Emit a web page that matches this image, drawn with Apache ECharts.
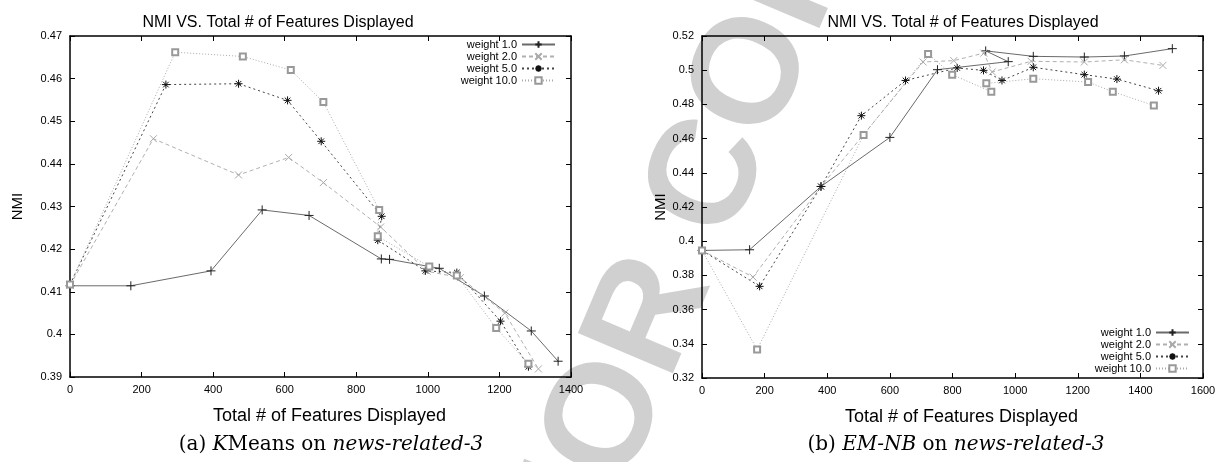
<!DOCTYPE html>
<html>
<head>
<meta charset="utf-8">
<script src="https://cdn.jsdelivr.net/npm/echarts@6/dist/echarts.min.js"></script>
<style>
  html, body { margin: 0; padding: 0; background: #fff; }
  #main { width: 1220px; height: 462px; }
</style>
</head>
<body>
<div id="main"></div>
<script>
'use strict';

// (a) KMeans - [features, NMI]
var kmW1 = [[0, 0.4114], [170, 0.4114], [394, 0.4149], [537, 0.4292], [668, 0.4279], [870, 0.4177], [893, 0.4176], [1032, 0.4155], [1158, 0.4090], [1289, 0.4008], [1364, 0.3937]];
var kmW2 = [[0, 0.4115], [233, 0.4459], [471, 0.4374], [611, 0.4415], [708, 0.4356], [868, 0.4252], [998, 0.4148], [1091, 0.4133], [1215, 0.4050], [1309, 0.3919]];
var kmW5 = [[0, 0.4117], [268, 0.4586], [471, 0.4588], [608, 0.4549], [702, 0.4453], [871, 0.4277], [860, 0.4221], [993, 0.4149], [1081, 0.4145], [1203, 0.4031], [1281, 0.3924]];
var kmW10 = [[0, 0.4117], [294, 0.4662], [483, 0.4652], [617, 0.4620], [708, 0.4545], [864, 0.4292], [860, 0.4230], [1004, 0.4159], [1081, 0.4138], [1191, 0.4015], [1281, 0.3931]];

// (b) EM-NB
var nbW1 = [[0, 0.3946], [152, 0.3950], [380, 0.4320], [600, 0.4607], [752, 0.5003], [978, 0.5050], [906, 0.5113], [1058, 0.5081], [1221, 0.5077], [1349, 0.5083], [1502, 0.5126]];
var nbW2 = [[0, 0.3946], [163, 0.3790], [380, 0.4320], [706, 0.5048], [804, 0.5056], [900, 0.5100], [927, 0.4990], [1051, 0.5052], [1221, 0.5048], [1349, 0.5061], [1472, 0.5028]];
var nbW5 = [[0, 0.3946], [184, 0.3736], [380, 0.4320], [509, 0.4734], [650, 0.4940], [815, 0.5013], [899, 0.4999], [958, 0.4940], [1058, 0.5017], [1221, 0.4974], [1325, 0.4948], [1458, 0.4880]];
var nbW10 = [[0, 0.3946], [176, 0.3366], [516, 0.4621], [722, 0.5095], [799, 0.4974], [924, 0.4874], [908, 0.4923], [1058, 0.4950], [1233, 0.4931], [1312, 0.4874], [1443, 0.4794]];

var names = ['weight 1.0', 'weight 2.0', 'weight 5.0', 'weight 10.0'];

var FONT = '"Liberation Sans", Arial, sans-serif';
var SERIF = '"DejaVu Serif", "Liberation Serif", serif';

var plusPath = 'path://M0,5L10,5M5,0L5,10';
var crossPath = 'path://M1,1L9,9M9,1L1,9';
var starPath = 'path://M0,5L10,5M5,0L5,10M1.5,1.5L8.5,8.5M8.5,1.5L1.5,8.5';

// 线型
var styles = [
    {symbol: plusPath, size: 9, mark: '#222', line: '#6a6a6a', type: 'solid'},
    {symbol: crossPath, size: 7, mark: '#aaa', line: '#b0b0b0', type: [4, 3]},
    {symbol: starPath, size: 8, mark: '#111', line: '#444', type: [2, 3]},
    {symbol: 'emptyRect', size: 6, mark: '#999', line: '#aaa', type: [1, 2]}
];

function makeSeries(data, i, axisIdx) {
    var s = styles[i];
    return {
        name: names[i],
        type: 'line',
        xAxisIndex: axisIdx,
        yAxisIndex: axisIdx,
        data: data,
        symbol: s.symbol,
        symbolSize: s.size,
        showAllSymbol: true,
        animation: false,
        z: 3,
        lineStyle: {color: s.line, width: 1, type: s.type},
        itemStyle: {color: s.mark, borderColor: s.mark, borderWidth: 1}
    };
}

function xAxes(gridIdx, max, shift) {
    var base = {
        gridIndex: gridIdx, type: 'value', min: 0, max: max, interval: 200,
        splitLine: {show: false},
        axisLine: {show: true, onZero: false, lineStyle: {color: '#000', width: 1.5}},
        axisTick: {show: true, inside: true, length: 5, lineStyle: {color: '#000'}}
    };
    var bottom = Object.assign({}, base, {
        position: 'bottom',
        name: 'Total # of Features Displayed',
        nameLocation: 'middle', nameGap: 30,
        nameTextStyle: {fontFamily: FONT, fontSize: 18, color: '#000', padding: [0, 0, 0, shift]},
        axisLabel: {fontFamily: FONT, fontSize: 11, color: '#000', margin: 7,
                    formatter: function(v) { return String(v); }}
    });
    var top = Object.assign({}, base, {position: 'top', axisLabel: {show: false}});
    return [bottom, top];
}

function yAxes(gridIdx, min, max, step, gap) {
    var base = {
        gridIndex: gridIdx, type: 'value', min: min, max: max, interval: step,
        splitLine: {show: false},
        axisLine: {show: true, onZero: false, lineStyle: {color: '#000', width: 1.5}},
        axisTick: {show: true, inside: true, length: 5, lineStyle: {color: '#000'}}
    };
    var left = Object.assign({}, base, {
        position: 'left',
        name: 'NMI',
        nameLocation: 'middle', nameGap: gap,
        nameTextStyle: {fontFamily: FONT, fontSize: 15, color: '#000'},
        axisLabel: {fontFamily: FONT, fontSize: 11, color: '#000', margin: 8}
    });
    var right = Object.assign({}, base, {position: 'right', axisLabel: {show: false}});
    return [left, right];
}

function legendAt(pos) {
    return Object.assign({
        orient: 'vertical',
        align: 'right',
        itemWidth: 33,
        itemHeight: 8,
        itemGap: 1,
        padding: 0,
        data: names,
        textStyle: {fontFamily: FONT, fontSize: 11, lineHeight: 11, color: '#000'}
    }, pos);
}

var captionRich = {
    n: {fontFamily: SERIF, fontSize: 20, fontWeight: 'normal', color: '#000'},
    i: {fontFamily: SERIF, fontSize: 20, fontWeight: 'normal', fontStyle: 'italic', color: '#000'}
};

var titleStyle = {fontFamily: FONT, fontSize: 16, fontWeight: 'normal', color: '#000'};

var myChart = echarts.init(document.getElementById('main'), null, {renderer: 'canvas'});

var option = {
    backgroundColor: '#fff',
    title: [
        {text: 'NMI VS. Total # of Features Displayed', left: 273, top: 10, textAlign: 'center', textStyle: titleStyle},
        {text: 'NMI VS. Total # of Features Displayed', left: 958, top: 10, textAlign: 'center', textStyle: titleStyle},
        {text: '{n|(a) }{i|K}{n|Means on }{i|news-related-3}', left: 326, top: 430, textAlign: 'center',
         textStyle: {fontWeight: 'normal', rich: captionRich}},
        {text: '{n|(b) }{i|EM-NB}{n| on }{i|news-related-3}', left: 951, top: 430, textAlign: 'center',
         textStyle: {fontWeight: 'normal', rich: captionRich}}
    ],
    // 水印
    graphic: [{
        type: 'text',
        x: 639, y: 347,
        rotation: 67 * Math.PI / 180,
        z: -10,
        silent: true,
        style: {
            text: 'AUTHOR COPY',
            fontFamily: FONT, fontSize: 150, fontWeight: 'bold',
            fill: '#d0d0d0',
            textAlign: 'center', textVerticalAlign: 'middle'
        }
    }],
    legend: [
        legendAt({right: 664, top: 39}),
        legendAt({right: 30, top: 327})
    ],
    grid: [
        {left: 70, top: 36, width: 501, height: 341, show: false},
        {left: 702, top: 36, width: 501, height: 342, show: false}
    ],
    xAxis: xAxes(0, 1400, 18).concat(xAxes(1, 1600, 18)),
    yAxis: yAxes(0, 0.39, 0.47, 0.01, 45).concat(yAxes(1, 0.32, 0.52, 0.02, 34)),
    series: [
        makeSeries(kmW1, 0, 0), makeSeries(kmW2, 1, 0), makeSeries(kmW5, 2, 0), makeSeries(kmW10, 3, 0),
        makeSeries(nbW1, 0, 2), makeSeries(nbW2, 1, 2), makeSeries(nbW5, 2, 2), makeSeries(nbW10, 3, 2)
    ]
};

// x轴 / y轴 index: 0,1 为左图, 2,3 为右图
myChart.setOption(option);
</script>
</body>
</html>
